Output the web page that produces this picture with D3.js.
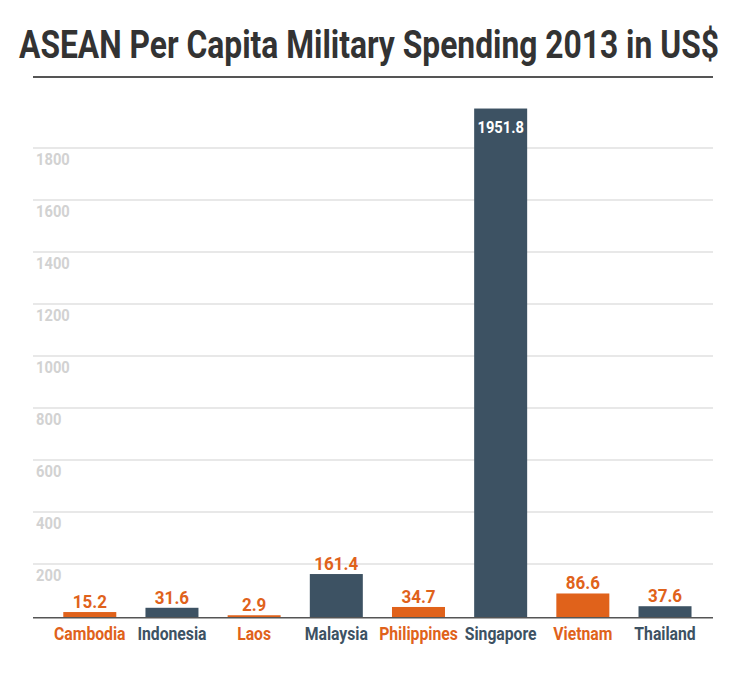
<!DOCTYPE html>
<html><head><meta charset="utf-8">
<script src="https://cdn.jsdelivr.net/npm/d3@7"></script>
<style>body{margin:0;background:#fff;} svg{display:block;font-family:Roboto,"Liberation Sans",sans-serif;}</style>
</head><body><svg id="c" width="740" height="673"></svg>
<script>
const categories = ["Cambodia","Indonesia","Laos","Malaysia","Philippines","Singapore","Vietnam","Thailand"];
const values = [15.2, 31.6, 2.9, 161.4, 34.7, 1951.8, 86.6, 37.6];
const colorGroup = ["orange","dark","orange","dark","orange","dark","orange","dark"];
const yTicks = [200,400,600,800,1000,1200,1400,1600,1800];
const title = "ASEAN Per Capita Military Spending 2013 in US$";

const ORANGE = "#e0621b", DARK = "#3d5263";
const svg = d3.select("#c");
const left = 33, right = 713, baseY = 617;

const x = d3.scaleBand().domain(categories).range([48.7, 706.1]).paddingInner(0.355).paddingOuter(0.1775);
const y = d3.scaleLinear().domain([0, 2000]).range([baseY, baseY - 520]);

// title (compressed horizontally to mimic a condensed face)
const t = svg.append("text").attr("text-anchor","middle")
  .attr("font-size", 39).attr("font-weight", 700).attr("fill", "#333").text(title);
const tw = t.node().getComputedTextLength();
t.attr("transform", `translate(369,58) scale(${700 / tw},1)`);
svg.append("line").attr("x1", left).attr("x2", right).attr("y1", 77).attr("y2", 77)
  .attr("stroke", "#555").attr("stroke-width", 2);

// grid
const g = svg.append("g");
g.selectAll("line.grid").data(yTicks).join("line").attr("class","grid")
  .attr("x1", left).attr("x2", right).attr("y1", d => y(d) - 1).attr("y2", d => y(d) - 1)
  .attr("stroke", "#e8e8e8").attr("stroke-width", 2);
g.selectAll("text.tick").data(yTicks).join("text").attr("class","tick")
  .attr("transform", d => `translate(36,${y(d) + 16}) scale(0.92,1)`)
  .attr("font-size", 16).attr("font-weight", 700)
  .attr("fill", "#d2d2d2").text(d => d);

// bars
const data = categories.map((c, i) => ({c, v: values[i], col: colorGroup[i] === "orange" ? ORANGE : DARK}));
svg.selectAll("rect.bar").data(data).join("rect").attr("class","bar")
  .attr("x", d => x(d.c)).attr("width", x.bandwidth())
  .attr("y", d => y(d.v) - 1).attr("height", d => baseY - y(d.v) + 1).attr("fill", d => d.col);

// baseline
svg.append("line").attr("x1", left).attr("x2", right).attr("y1", baseY + 0.75).attr("y2", baseY + 0.75)
  .attr("stroke", "#555").attr("stroke-width", 1.5);

// value labels
svg.selectAll("text.val").data(data).join("text").attr("class","val")
  .attr("transform", d => `translate(${x(d.c) + x.bandwidth()/2},${d.v > 1000 ? y(d.v) + 23 : y(d.v) - 5}) scale(0.92,1)`)
  .attr("text-anchor", "middle").attr("font-weight", 700)
  .attr("font-size", d => d.v > 1000 ? 16 : 18.5)
  .attr("fill", d => d.v > 1000 ? "#fff" : ORANGE)
  .text(d => d.v.toFixed(1));

// category labels
svg.selectAll("text.cat").data(data).join("text").attr("class","cat")
  .attr("transform", d => `translate(${x(d.c) + x.bandwidth()/2},640) scale(0.9,1)`)
  .attr("text-anchor", "middle").attr("font-weight", 700).attr("font-size", 17.5)
  .attr("fill", d => d.col).text(d => d.c);
</script></body></html>
